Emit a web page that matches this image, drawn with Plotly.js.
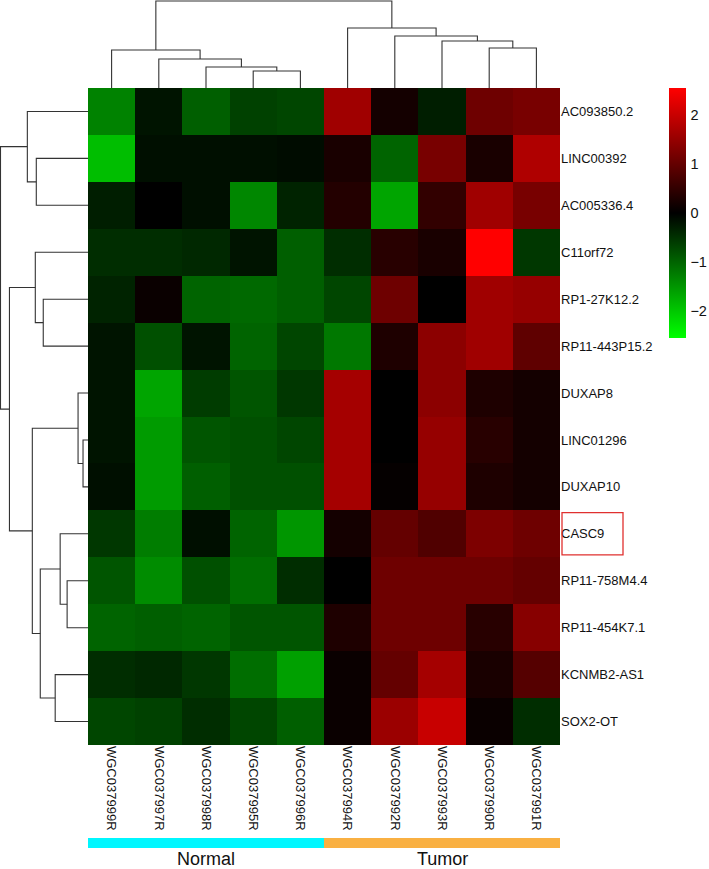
<!DOCTYPE html>
<html><head><meta charset="utf-8">
<script src="https://cdn.plot.ly/plotly-3.0.1.min.js"></script>
<style>html,body{margin:0;padding:0;background:#fff;overflow:hidden}#chart{width:709px;height:869px}</style>
</head><body><div id="chart"></div>
<script>
const samples = ['WGC037999R','WGC037997R','WGC037998R','WGC037995R','WGC037996R',
                 'WGC037994R','WGC037992R','WGC037993R','WGC037990R','WGC037991R'];
const sampleGroup = [0,0,0,0,0,1,1,1,1,1];
const groupNames = ['Normal','Tumor'];
const genes = ['AC093850.2','LINC00392','AC005336.4','C11orf72','RP1-27K12.2','RP11-443P15.2',
               'DUXAP8','LINC01296','DUXAP10','CASC9','RP11-758M4.4','RP11-454K7.1','KCNMB2-AS1','SOX2-OT'];
const highlightGene = 'CASC9';

const v_AC093850_2   = [-1.3, -0.2, -0.95, -0.65, -0.7, 1.6, 0.2, -0.3, 1.1, 1.2];
const v_LINC00392    = [-1.9, -0.15, -0.15, -0.15, -0.12, 0.25, -1.0, 1.2, 0.25, 1.75];
const v_AC005336_4   = [-0.3, 0.0, -0.15, -1.35, -0.35, 0.35, -1.65, 0.5, 1.6, 1.2];
const v_C11orf72     = [-0.45, -0.45, -0.4, -0.2, -0.95, -0.45, 0.4, 0.25, 2.55, -0.55];
const v_RP1_27K12_2  = [-0.35, 0.1, -1.0, -1.05, -0.95, -0.7, 1.1, 0.0, 1.6, 1.5];
const v_RP11_443P15_2= [-0.2, -0.8, -0.2, -1.0, -0.7, -1.2, 0.3, 1.4, 1.6, 0.95];
const v_DUXAP8       = [-0.2, -1.65, -0.6, -0.85, -0.55, 1.65, 0.0, 1.4, 0.3, 0.2];
const v_LINC01296    = [-0.2, -1.55, -0.85, -0.8, -0.7, 1.65, 0.0, 1.5, 0.4, 0.2];
const v_DUXAP10      = [-0.15, -1.55, -0.95, -0.8, -0.8, 1.65, 0.05, 1.5, 0.3, 0.2];
const v_CASC9        = [-0.55, -1.25, -0.15, -1.0, -1.5, 0.2, 1.0, 0.8, 1.25, 1.1];
const v_RP11_758M4_4 = [-0.85, -1.4, -0.8, -1.1, -0.45, 0.0, 1.1, 1.1, 1.1, 1.0];
const v_RP11_454K7_1 = [-1.0, -0.95, -1.0, -0.85, -0.85, 0.3, 1.1, 1.1, 0.4, 1.35];
const v_KCNMB2_AS1   = [-0.45, -0.4, -0.55, -1.1, -1.6, 0.1, 1.0, 1.65, 0.25, 0.85];
const v_SOX2_OT      = [-0.7, -0.65, -0.45, -0.7, -0.95, 0.1, 1.55, 2.0, 0.1, -0.45];
const values = [v_AC093850_2, v_LINC00392, v_AC005336_4, v_C11orf72, v_RP1_27K12_2, v_RP11_443P15_2,
                v_DUXAP8, v_LINC01296, v_DUXAP10, v_CASC9, v_RP11_758M4_4, v_RP11_454K7_1, v_KCNMB2_AS1, v_SOX2_OT];

// dendrogram merges: 'L#' = leaf (display order), 'N#' = earlier merge; third = merge height
const colMerges = [
  ['L3','L4',17], ['L2','N0',21], ['L1','N1',29], ['L0','N2',38],
  ['L8','L9',40], ['L7','N4',47], ['L6','N5',52], ['L5','N6',60],
  ['N3','N7',87]
];
const rowMerges = [
  ['L1','L2',52], ['L0','N0',61], ['L4','L5',45], ['L3','N2',53],
  ['L7','L8',5], ['L6','N4',10], ['L10','L11',21], ['L9','N6',28],
  ['L12','L13',33], ['N7','N8',48], ['N5','N9',56], ['N3','N10',79],
  ['N1','N11',88]
];
const colorTicks = [-2,-1,0,1,2];

const W=709,H=869;
const hmL=88,hmR=560,hmT=88,hmB=745;
const px=x=>x/W, py=y=>1-y/H;

function dendro(merges){
  const pos=[],hgt=[],a=[],b=[];
  const get=r=>r[0]==='L'?[+r.slice(1),0]:[pos[+r.slice(1)],hgt[+r.slice(1)]];
  merges.forEach((m,i)=>{
    const [pa,ha]=get(m[0]); const [pb,hb]=get(m[1]); const h=m[2];
    a.push(pa,pa,pb,pb,null); b.push(ha,h,h,hb,null);
    pos[i]=(pa+pb)/2; hgt[i]=h;
  });
  return {a,b};
}
const cd=dendro(colMerges), rd=dendro(rowMerges);
const xi=samples.map((_,i)=>i), yi=genes.map((_,i)=>i);
const font='"Liberation Sans", Arial, sans-serif';
const lineStyle={color:'#333333',width:1.1};

const traces=[
  {type:'heatmap', x:xi, y:yi, z:values, xaxis:'x', yaxis:'y',
   colorscale:[[0,'#00ff00'],[0.5,'#000000'],[1,'#ff0000']], zmin:-2.55, zmax:2.55,
   hoverinfo:'skip',
   colorbar:{thickness:17, thicknessmode:'pixels', len:250, lenmode:'pixels',
     x:px(669), xanchor:'left', y:py(88), yanchor:'top', outlinewidth:0, xpad:0, ypad:0,
     tickvals:colorTicks, ticks:'outside', ticklen:2, tickcolor:'rgba(0,0,0,0)',
     tickfont:{family:font,size:14.5,color:'#111'}}},
  {type:'scatter', mode:'lines', x:cd.a, y:cd.b, xaxis:'x2', yaxis:'y2', line:lineStyle, hoverinfo:'skip', showlegend:false},
  {type:'scatter', mode:'lines', x:rd.b, y:rd.a, xaxis:'x3', yaxis:'y3', line:lineStyle, hoverinfo:'skip', showlegend:false},
  {type:'heatmap', x:xi, y:[0], z:[sampleGroup], xaxis:'x4', yaxis:'y4', showscale:false,
   colorscale:[[0,'#00f7ff'],[1,'#f9b042']], zmin:0, zmax:1, hoverinfo:'skip'}
];

const hx=[px(hmL),px(hmR)], hy=[py(hmB),py(hmT)];
const noAx={showgrid:false,zeroline:false,showticklabels:false,ticks:'',showline:false,fixedrange:true};
const hIdx=genes.indexOf(highlightGene);
const annotations=groupNames.map((g,k)=>{
  const idx=xi.filter(i=>sampleGroup[i]===k);
  return {text:g, xref:'x', x:(idx[0]+idx[idx.length-1])/2, yref:'paper', y:py(859),
          showarrow:false, yanchor:'middle', font:{family:font,size:18,color:'#111'}};
});

const layout={
  width:W, height:H, margin:{l:0,r:0,t:0,b:0,pad:0,autoexpand:false},
  paper_bgcolor:'#fff', plot_bgcolor:'#fff', showlegend:false,
  font:{family:font,color:'#111'},
  xaxis:{domain:hx, range:[-0.5,samples.length-0.5], tickvals:xi, ticktext:samples, tickangle:90,
         ticks:'', showgrid:false, zeroline:false, tickfont:{family:font,size:13,color:'#111'}, anchor:'y', automargin:false},
  yaxis:{domain:hy, range:[genes.length-0.5,-0.5], tickvals:yi, ticktext:genes, side:'right',
         ticks:'', showgrid:false, zeroline:false, tickfont:{family:font,size:13,color:'#111'}, anchor:'x', automargin:false},
  xaxis2:Object.assign({domain:hx, range:[-0.5,samples.length-0.5], anchor:'y2'},noAx),
  yaxis2:Object.assign({domain:[py(hmT),1], range:[0,88], anchor:'x2'},noAx),
  xaxis3:Object.assign({domain:[0,px(hmL)], range:[88.5,0], anchor:'y3'},noAx),
  yaxis3:Object.assign({domain:hy, range:[genes.length-0.5,-0.5], anchor:'x3'},noAx),
  xaxis4:Object.assign({domain:hx, range:[-0.5,samples.length-0.5], anchor:'y4'},noAx),
  yaxis4:Object.assign({domain:[py(848),py(838)], range:[-0.5,0.5], anchor:'x4'},noAx),
  annotations:annotations,
  shapes:[{type:'rect', xref:'paper', yref:'y', x0:px(562), x1:px(623), y0:hIdx-0.45, y1:hIdx+0.45,
           line:{color:'#e0302f',width:1.3}, fillcolor:'rgba(0,0,0,0)'}]
};
Plotly.newPlot('chart',traces,layout,{staticPlot:true,displayModeBar:false});
</script></body></html>
